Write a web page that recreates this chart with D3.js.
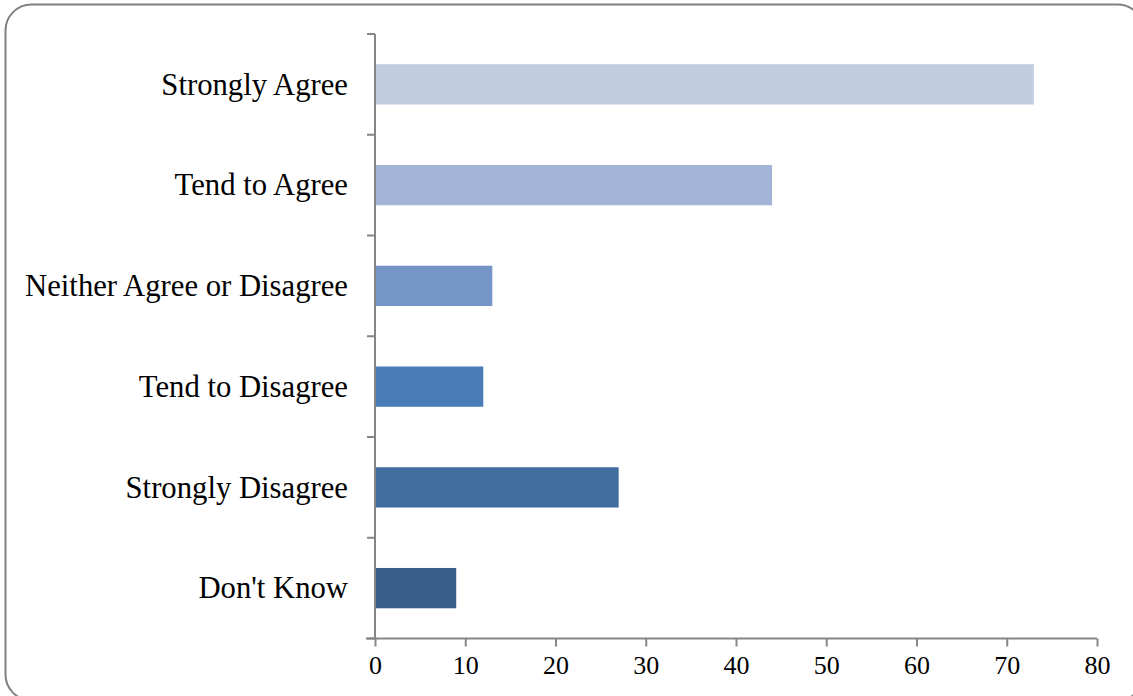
<!DOCTYPE html>
<html>
<head>
<meta charset="utf-8">
<script src="https://cdn.jsdelivr.net/npm/d3@7"></script>
<style>
  html, body { margin: 0; padding: 0; background: #ffffff; }
  svg { display: block; }
</style>
</head>
<body>
<svg id="chart" width="1133" height="696"></svg>
<script>
const categories = ["Strongly Agree", "Tend to Agree", "Neither Agree or Disagree", "Tend to Disagree", "Strongly Disagree", "Don't Know"];
const values = [73, 44, 13, 12, 27, 9];
const barColors = ["#c2cde2", "#a2b5d6", "#7595c6", "#4a7cb6", "#426d9f", "#395d8a"];
const xTicks = [0, 10, 20, 30, 40, 50, 60, 70, 80];

const svg = d3.select("#chart");

// outer rounded frame
svg.append("rect")
  .attr("x", 5.5).attr("y", 4.5)
  .attr("width", 1138).attr("height", 696)
  .attr("rx", 26).attr("ry", 26)
  .attr("fill", "#ffffff")
  .attr("stroke", "#808080")
  .attr("stroke-width", 2);

const plot = { left: 375, right: 1097, top: 34, bottom: 638.5 };

const x = d3.scaleLinear().domain([0, 80]).range([plot.left, plot.right]);
const y = d3.scaleBand().domain(categories).range([plot.top, plot.bottom])
  .paddingInner(0.6).paddingOuter(0.3);
const yTicks = d3.scaleBand().domain(categories).range([plot.top, plot.bottom]);

const axisColor = "#868686";
const font = "'Liberation Serif', 'Times New Roman', serif";

// bars
svg.append("g").selectAll("rect")
  .data(categories)
  .join("rect")
  .attr("x", x(0))
  .attr("y", d => y(d))
  .attr("width", (d, i) => x(values[i]) - x(0))
  .attr("height", y.bandwidth())
  .attr("fill", (d, i) => barColors[i]);

// y axis line and ticks (between categories)
const yAxisG = svg.append("g");
yAxisG.append("line")
  .attr("x1", x(0)).attr("x2", x(0))
  .attr("y1", plot.top).attr("y2", plot.bottom)
  .attr("stroke", axisColor).attr("stroke-width", 2);
const yTickPos = categories.map(c => yTicks(c)).concat([plot.bottom]);
yAxisG.selectAll("line.tick")
  .data(yTickPos)
  .join("line")
  .attr("class", "tick")
  .attr("x1", x(0) - 8).attr("x2", x(0))
  .attr("y1", d => d).attr("y2", d => d)
  .attr("stroke", axisColor).attr("stroke-width", 2);

// category labels
svg.append("g").selectAll("text")
  .data(categories)
  .join("text")
  .attr("x", x(0) - 27)
  .attr("y", d => yTicks(d) + yTicks.bandwidth() / 2)
  .attr("dy", "0.33em")
  .attr("text-anchor", "end")
  .attr("font-family", font)
  .attr("font-size", 30.7)
  .attr("fill", "#000000")
  .text(d => d);

// x axis
const xAxis = d3.axisBottom(x).tickValues(xTicks).tickSize(8).tickSizeOuter(0).tickPadding(9);
const xg = svg.append("g")
  .attr("transform", `translate(0,${plot.bottom})`)
  .call(xAxis);
xg.select(".domain").remove();
xg.append("line")
  .attr("x1", x(0) - 9).attr("x2", x(80))
  .attr("y1", 0).attr("y2", 0)
  .attr("stroke", axisColor).attr("stroke-width", 2);
xg.selectAll(".tick line").attr("stroke", axisColor).attr("stroke-width", 2);
xg.selectAll(".tick text")
  .attr("font-family", font)
  .attr("font-size", 26)
  .attr("fill", "#000000");
</script>
</body>
</html>
